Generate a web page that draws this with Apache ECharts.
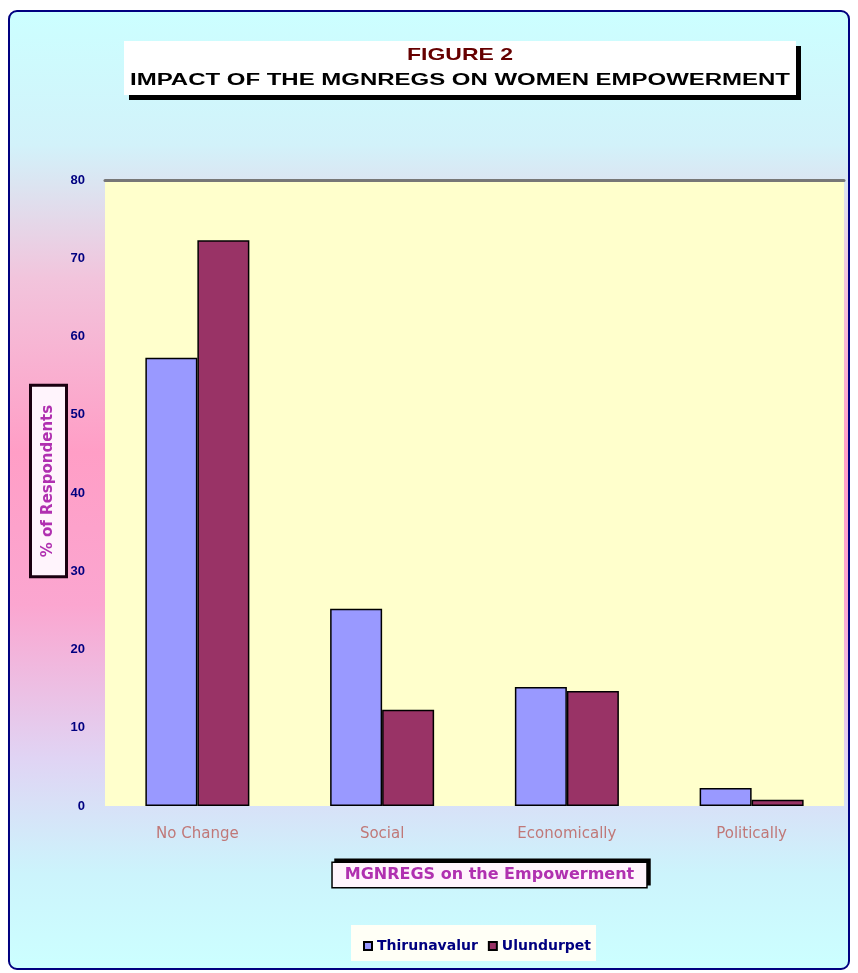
<!DOCTYPE html>
<html>
<head>
<meta charset="utf-8">
<script src="https://cdn.jsdelivr.net/npm/echarts@6/dist/echarts.min.js"></script>
<style>
html, body { margin: 0; padding: 0; background: #fff; }
#chart { width: 858px; height: 973px; }
</style>
</head>
<body>
<div id="chart"></div>
<script>
// 数据
var categories = ['No Change', 'Social', 'Economically', 'Politically'];
var seriesNames = ['Thirunavalur', 'Ulundurpet'];
var blockA = [57.3, 25.2, 15.2, 2.3];
var blockB = [72.3, 12.3, 14.7, 0.8];
var yTicks = { min: 0, max: 80, interval: 10 };

var titleTop = 'FIGURE 2';
var titleMain = 'IMPACT OF THE MGNREGS ON WOMEN EMPOWERMENT';
var xName = 'MGNREGS on the Empowerment';
var yName = '% of Respondents';

var ctx = document.createElement('canvas').getContext('2d');
// 把文字横向拉伸到指定宽度
function wideText(text, cx, cy, width, font, color) {
    ctx.font = font;
    var w = ctx.measureText(text).width;
    return {
        type: 'text', x: cx, y: cy, scaleX: width / w, z: 20,
        style: { text: text, font: font, fill: color, align: 'center', verticalAlign: 'middle' }
    };
}

var nameBox = {
    color: '#b030b0', fontWeight: 'bold', fontSize: 16, fontFamily: 'DejaVu Sans',
    backgroundColor: '#fff4fc', borderColor: '#000', borderWidth: 1.5
};

var myChart = echarts.init(document.getElementById('chart'));
var option = {
    animation: false,
    graphic: [
        {   // 背景渐变
            type: 'rect', z: -10,
            shape: { x: 9, y: 11, width: 840, height: 958, r: 8 },
            style: {
                fill: new echarts.graphic.LinearGradient(0, 0, 0, 1, [
                    { offset: 0, color: '#ccffff' },
                    { offset: 0.14, color: '#d2f2fa' },
                    { offset: 0.28, color: '#f2c4dc' },
                    { offset: 0.46, color: '#ff9ec6' },
                    { offset: 0.62, color: '#fba6d0' },
                    { offset: 0.78, color: '#e0d4f4' },
                    { offset: 0.9, color: '#ccf4fc' },
                    { offset: 1, color: '#ccffff' }
                ]),
                stroke: '#000080', lineWidth: 2
            }
        },
        {   // 标题框
            type: 'rect', z: 15,
            shape: { x: 124, y: 41, width: 672, height: 54 },
            style: { fill: '#ffffff', shadowColor: '#000', shadowOffsetX: 5, shadowOffsetY: 5, shadowBlur: 0 }
        },
        wideText(titleTop, 460, 55, 106, 'bold 17px "Liberation Sans"', '#660000'),
        wideText(titleMain, 460, 81, 660, 'bold 16px "Liberation Sans"', '#000000'),
        {   // 图例底框
            type: 'rect', z: 1,
            shape: { x: 351, y: 925, width: 245, height: 36 },
            style: { fill: '#fffff6' }
        }
    ],
    legend: {
        data: seriesNames,
        top: 934,
        left: 358,
        itemWidth: 8,
        itemHeight: 8,
        itemGap: 10,
        icon: 'rect',
        textStyle: { color: '#000080', fontWeight: 'bold', fontSize: 14, fontFamily: 'DejaVu Sans' }
    },
    grid: {
        left: 105, right: 14, top: 180, bottom: 167,
        show: true, backgroundColor: '#ffffcc', borderWidth: 0
    },
    xAxis: [
        {
            type: 'category',
            data: categories,
            name: '{sp|}{b|' + xName + '}',
            nameLocation: 'middle',
            nameGap: 57,
            nameMoveOverlap: false,
            nameTextStyle: {
                rich: {
                    sp: { width: 30 },
                    b: Object.assign({}, nameBox, {
                        padding: [4, 12], shadowColor: '#000', shadowOffsetX: 3, shadowOffsetY: -3, shadowBlur: 0
                    })
                }
            },
            axisLine: { show: false },
            axisTick: { show: false },
            axisLabel: { color: '#c07878', fontSize: 15, fontFamily: 'DejaVu Sans', margin: 21 }
        },
        {   // 顶部边线
            type: 'category',
            data: categories,
            position: 'top',
            axisLine: { show: true, lineStyle: { color: '#777', width: 3 } },
            axisTick: { show: false },
            axisLabel: { show: false }
        }
    ],
    yAxis: {
        type: 'value',
        min: yTicks.min,
        max: yTicks.max,
        interval: yTicks.interval,
        name: '{sp|}{b|' + yName + '}',
        nameLocation: 'middle',
        nameRotate: 90,
        nameGap: 40,
        nameMoveOverlap: false,
        nameTextStyle: {
            rich: {
                sp: { width: 24 },
                b: Object.assign({}, nameBox, {
                    fontSize: 15, borderColor: '#1a0010', borderWidth: 3, padding: [9, 18]
                })
            }
        },
        axisLine: { show: false },
        axisTick: { show: false },
        splitLine: { show: false },
        axisLabel: { color: '#000080', fontWeight: 'bold', fontSize: 13, margin: 20 }
    },
    series: [
        {
            name: seriesNames[0],
            type: 'bar',
            data: blockA,
            barWidth: 52,
            barGap: '0%',
            itemStyle: { color: '#9999ff', borderColor: '#000', borderWidth: 1.5 }
        },
        {
            name: seriesNames[1],
            type: 'bar',
            data: blockB,
            barWidth: 52,
            barGap: '0%',
            itemStyle: { color: '#993366', borderColor: '#000', borderWidth: 1.5 }
        }
    ]
};
myChart.setOption(option);
</script>
</body>
</html>
